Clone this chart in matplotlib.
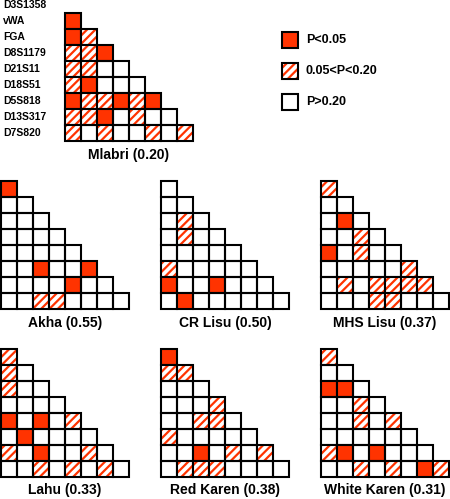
import matplotlib
matplotlib.use("Agg")
import matplotlib.pyplot as plt
from matplotlib.patches import Rectangle

loci = ["D3S1358", "vWA", "FGA", "D8S1179", "D21S11", "D18S51", "D5S818", "D13S317", "D7S820"]
# S = P<0.05, H = 0.05<P<0.20, . = P>0.20 ; row i has i cells
mlabri = ["S", "SH", "HHS", "HH..", "HS...", "SHHSHS", "HHS.H..", "H.H..H.H"]
akha = ["S", "..", "...", "....", ".....", "..S..S", "....S..", "..HH...."]
cr_lisu = [".", "..", ".H.", ".H..", ".....", "H.....", "S..S...", ".S......"]
mhs_lisu = ["H", "..", ".S.", "..H.", "S.H..", ".....H", ".H.HHHH", "...HH..."]
lahu = ["H", "H.", "H..", "....", "S.S.H", ".S....", "H.S..H.", "..H.H.H."]
red_karen = ["S", "HH", "...", "...H", "..HH.", "H.....", "..S.H.H", ".HHH...."]
white_karen = ["H", "..", "SS.", "..H.", "..H.H", "......", "HS.S...", "..H.H.SH"]
titles = ["Mlabri (0.20)", "Akha (0.55)", "CR Lisu (0.50)", "MHS Lisu (0.37)",
          "Lahu (0.33)", "Red Karen (0.38)", "White Karen (0.31)"]
legend_labels = ["P<0.05", "0.05<P<0.20", "P>0.20"]

RED = "#ff3300"
plt.rcParams['hatch.linewidth'] = 1.6
fig = plt.figure(figsize=(4.5, 4.99), dpi=100)
ax = fig.add_axes([0, 0, 1, 1])
ax.set_xlim(0, 450); ax.set_ylim(499, 0); ax.axis("off")
C = 16
FONT = "Liberation Sans"

def cell(x, y, code):
    if code == "S":
        ax.add_patch(Rectangle((x, y), C, C, facecolor=RED, edgecolor="none"))
    elif code == "H":
        ax.add_patch(Rectangle((x, y), C, C, facecolor="white", edgecolor=RED, hatch="////", linewidth=0))
    ax.add_patch(Rectangle((x, y), C, C, facecolor="none", edgecolor="black", linewidth=1.5))

def matrix(rows, x0, y0, title, ty):
    for i, r in enumerate(rows):
        for j, c in enumerate(r):
            cell(x0 + j * C, y0 + i * C, c)
    ax.text(x0 + 4 * C, ty, title, ha="center", va="center", fontsize=10, fontweight="bold", family=FONT)

matrix(mlabri, 65, 13, titles[0], 155)
for k, lab in enumerate(loci):
    ax.text(3, 5 + k * 16, lab, ha="left", va="center", fontsize=7.5, fontweight="bold", family=FONT)

mats = [akha, cr_lisu, mhs_lisu, lahu, red_karen, white_karen]
xs = [1, 161, 321]
for n, m in enumerate(mats):
    x0 = xs[n % 3]
    y0 = 181 if n < 3 else 349
    ty = 323 if n < 3 else 490
    matrix(m, x0, y0, titles[n + 1], ty)

for k, (code, lab) in enumerate(zip("SH.", legend_labels)):
    y = 32 + k * 31
    cell(282, y, code)
    ax.text(306, y + C / 2, lab, ha="left", va="center", fontsize=9, fontweight="bold", family=FONT)

fig.savefig("out.png", dpi=100)
